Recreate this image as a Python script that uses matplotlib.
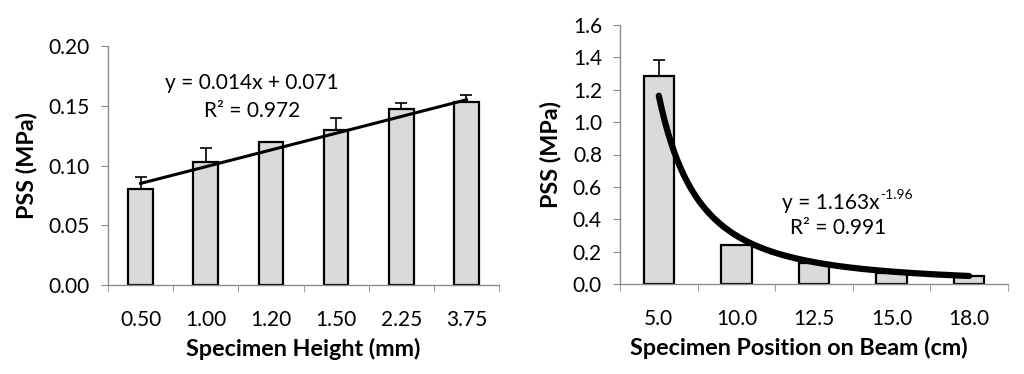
import numpy as np
import matplotlib
matplotlib.use("Agg")
import matplotlib.pyplot as plt

# --- data ---
height_labels = ["0.50", "1.00", "1.20", "1.50", "2.25", "3.75"]
height_pss = [0.080, 0.103, 0.120, 0.130, 0.147, 0.153]
height_err = [0.010, 0.012, 0.000, 0.010, 0.005, 0.006]
lin_slope, lin_icpt = 0.014, 0.071

pos_labels = ["5.0", "10.0", "12.5", "15.0", "18.0"]
pos_pss = [1.287, 0.240, 0.130, 0.070, 0.050]
pos_err = [0.095, 0.004, 0.000, 0.000, 0.000]
pow_a, pow_b = 1.163, -1.96

plt.rcParams["font.family"] = ["Lato", "DejaVu Sans"]
BAR_FC = "#dadada"
SPINE = "#8c8c8c"
TICK_FS = 15
LABEL_FS = 16.8
EQ_FS = 15


def style_axes(ax, n, ymax, ystep, fmt):
    ax.set_xlim(0.5, n + 0.5)
    ax.set_ylim(0, ymax)
    ax.set_yticks(np.arange(0, ymax + ystep / 2, ystep))
    ax.yaxis.set_major_formatter(plt.FormatStrFormatter(fmt))
    ax.set_xticks(np.arange(0.5, n + 1.0, 1.0), minor=True)
    ax.tick_params(axis="x", which="major", length=0, pad=18, labelsize=TICK_FS)
    ax.tick_params(axis="x", which="minor", length=5, color=SPINE, direction="out")
    ax.tick_params(axis="y", length=5, color=SPINE, labelsize=TICK_FS, pad=8)
    for s in ("top", "right"):
        ax.spines[s].set_visible(False)
    for s in ("left", "bottom"):
        ax.spines[s].set_color(SPINE)
        ax.spines[s].set_linewidth(1.0)


fig = plt.figure(figsize=(10.24, 3.74), dpi=100)
ax1 = fig.add_axes([108 / 1024, 1 - 285 / 374, (499 - 108) / 1024, (285 - 46) / 374])
ax2 = fig.add_axes([620 / 1024, 1 - 284 / 374, (1008 - 620) / 1024, (284 - 25) / 374])

# --- left: specimen height ---
x1 = np.arange(1, len(height_pss) + 1)
ax1.bar(x1, height_pss, width=0.38, color=BAR_FC, edgecolor="black", linewidth=1.6, zorder=2)
ax1.errorbar(x1, height_pss, yerr=[np.zeros(len(height_err)), height_err], fmt="none",
             ecolor="black", elinewidth=1.2, capsize=4, capthick=1.2, zorder=3)
xf = np.linspace(1, len(height_pss), 50)
ax1.plot(xf, lin_slope * xf + lin_icpt, color="black", lw=2.2, zorder=4)
ax1.text(2.71, 0.169, f"y = {lin_slope}x + {lin_icpt}", ha="center", va="center", fontsize=EQ_FS)
ax1.text(2.71, 0.146, "R² = 0.972", ha="center", va="center", fontsize=EQ_FS)
ax1.set_xticks(x1)
ax1.set_xticklabels(height_labels)
style_axes(ax1, len(height_pss), 0.20, 0.05, "%.2f")
ax1.set_ylabel("PSS (MPa)", fontsize=LABEL_FS, fontweight="bold", labelpad=8)
ax1.set_xlabel("Specimen Height (mm)", fontsize=LABEL_FS, fontweight="bold", labelpad=6)

# --- right: position on beam ---
x2 = np.arange(1, len(pos_pss) + 1)
ax2.bar(x2, pos_pss, width=0.39, color=BAR_FC, edgecolor="black", linewidth=1.6, zorder=2)
ax2.errorbar(x2, pos_pss, yerr=[np.zeros(len(pos_err)), pos_err], fmt="none",
             ecolor="black", elinewidth=1.2, capsize=4, capthick=1.2, zorder=3)
xp = np.linspace(1, len(pos_pss), 200)
ax2.plot(xp, pow_a * xp ** pow_b, color="black", lw=4.5, solid_capstyle="round", zorder=4)
eq = ax2.text(3.22, 0.50, f"y = {pow_a}x", ha="center", va="center", fontsize=EQ_FS)
ax2.annotate(f"{pow_b}", xy=(1, 0.62), xycoords=eq, ha="left", va="bottom", fontsize=10)
ax2.text(3.31, 0.346, "R² = 0.991", ha="center", va="center", fontsize=EQ_FS)
ax2.set_xticks(x2)
ax2.set_xticklabels(pos_labels)
style_axes(ax2, len(pos_pss), 1.6, 0.2, "%.1f")
ax2.set_ylabel("PSS (MPa)", fontsize=LABEL_FS, fontweight="bold", labelpad=8)
ax2.set_xlabel("Specimen Position on Beam (cm)", fontsize=LABEL_FS, fontweight="bold", labelpad=6)
ax2.xaxis.label.set_x(0.46)

fig.savefig("out.png", dpi=100)
